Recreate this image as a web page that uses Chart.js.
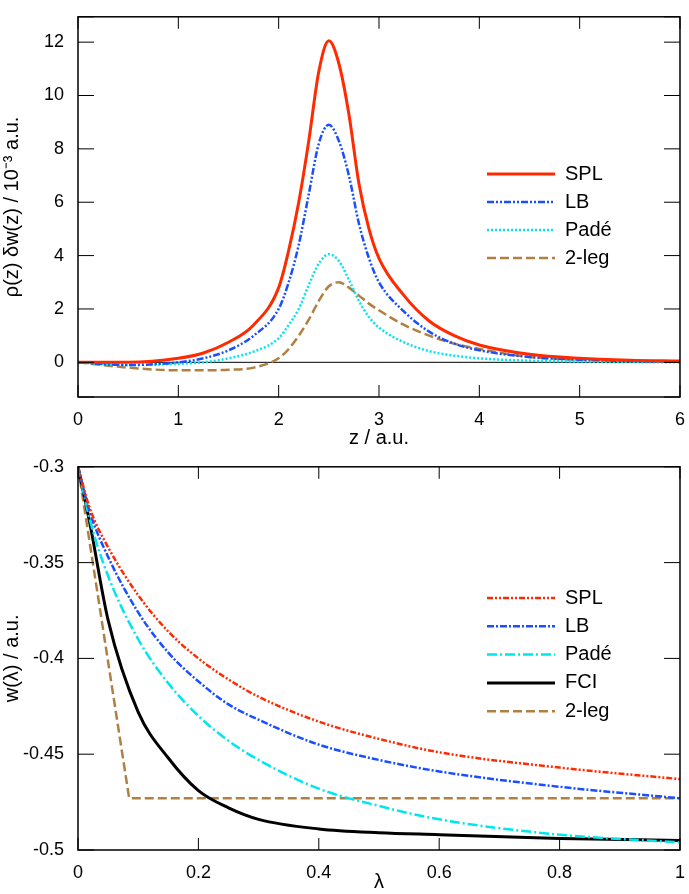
<!DOCTYPE html>
<html><head><meta charset="utf-8">
<script src="https://cdn.jsdelivr.net/npm/chart.js@4/dist/chart.umd.min.js"></script>
<style>body{margin:0;background:#fff}</style>
</head><body>
<div style="position:absolute;top:0;left:0;width:689px;height:450px"><canvas id="c1"></canvas></div>
<div style="position:absolute;top:450px;left:0;width:689px;height:444px"><canvas id="c2"></canvas></div>
<script>
// top panel: z grid and curves
const z = [0,0.5,1,1.25,1.5,1.75,2,2.1,2.2,2.3,2.4,2.5,2.6,2.7,2.8,2.9,3,3.25,3.5,3.75,4,4.5,5,5.5,6];
const splTop = [0,0,0.15,0.35,0.75,1.4,2.8,4.2,6.0,8.3,10.9,12.05,11.2,9.3,6.7,5.0,3.9,2.5,1.55,1.0,0.65,0.3,0.15,0.08,0.05];
const lbTop = [0,-0.1,0,0.15,0.45,1.0,2.0,3.0,4.4,6.3,8.2,8.9,8.3,7.0,5.2,3.9,3.0,1.9,1.15,0.7,0.45,0.2,0.1,0.05,0.03];
const padeTop = [0,-0.1,-0.05,0,0.15,0.4,0.9,1.4,2.0,2.9,3.7,4.05,3.8,3.1,2.3,1.7,1.3,0.75,0.42,0.25,0.15,0.06,0.03,0.01,0];
const legTop = [0,-0.2,-0.3,-0.3,-0.28,-0.2,0.15,0.5,1.0,1.6,2.3,2.85,3.0,2.8,2.5,2.2,1.95,1.4,1.0,0.7,0.5,0.2,0.1,0.05,0.02];

// bottom panel
const lam = [0,0.02,0.05,0.1,0.15,0.2,0.25,0.3,0.4,0.5,0.6,0.8,1];
const splBot = [-0.3,-0.322,-0.342,-0.367,-0.386,-0.4,-0.411,-0.42,-0.433,-0.442,-0.449,-0.457,-0.463];
const lbBot = [-0.3,-0.324,-0.347,-0.376,-0.397,-0.412,-0.424,-0.432,-0.445,-0.453,-0.459,-0.467,-0.473];
const padeBot = [-0.3,-0.328,-0.357,-0.39,-0.413,-0.43,-0.443,-0.453,-0.468,-0.477,-0.484,-0.492,-0.496];
const fciBot = [-0.3,-0.33,-0.38,-0.428,-0.452,-0.469,-0.478,-0.484,-0.489,-0.491,-0.492,-0.494,-0.495];
const lam2 = [0,0.085,1];
const legBot = [-0.3,-0.473,-0.473];

const F = 'Liberation Sans, Arial, sans-serif';
const pts = (xs, ys) => xs.map((x, i) => ({x: x, y: ys[i]}));

const framePlugin = {
    id: 'frame',
    afterDraw(c) {
        const a = c.chartArea, ctx = c.ctx;
        ctx.save();
        ctx.strokeStyle = '#000'; ctx.lineWidth = 1.5;
        ctx.strokeRect(a.left, a.top, a.right - a.left, a.bottom - a.top);
        // inward ticks
        const xs = c.scales.x, ys = c.scales.y;
        ctx.lineWidth = 1;
        xs.ticks.forEach(t => {
            const p = xs.getPixelForValue(t.value);
            ctx.beginPath(); ctx.moveTo(p, a.bottom); ctx.lineTo(p, a.bottom - 12);
            ctx.moveTo(p, a.top); ctx.lineTo(p, a.top + 12); ctx.stroke();
        });
        ys.ticks.forEach(t => {
            const p = ys.getPixelForValue(t.value);
            ctx.beginPath(); ctx.moveTo(a.left, p); ctx.lineTo(a.left + 16, p);
            ctx.moveTo(a.right, p); ctx.lineTo(a.right - 16, p); ctx.stroke();
        });
        // legend
        const L = c.options.plugins.myLegend;
        c.data.datasets.forEach((d, i) => {
            if (d.noLegend) return;
            const y = L.y + i * L.dy;
            ctx.strokeStyle = d.borderColor; ctx.lineWidth = d.borderWidth;
            ctx.setLineDash(d.borderDash || []);
            ctx.beginPath(); ctx.moveTo(L.x, y); ctx.lineTo(L.x + 68, y); ctx.stroke();
            ctx.setLineDash([]);
            ctx.fillStyle = '#000'; ctx.font = '20px ' + F; ctx.textBaseline = 'middle';
            ctx.fillText(d.label, L.x + 78, y);
        });
        ctx.restore();
    }
};

function line(label, data, color, dash, w) {
    return {label: label, data: data, borderColor: color, borderDash: dash, borderWidth: w || 2.5,
        pointRadius: 0, fill: false, cubicInterpolationMode: 'monotone'};
}

function scales(xmin, xmax, xstep, ymin, ymax, ystep, xtitle, ytitle, xh, xfmt, yfmt) {
    return {
        x: {type: 'linear', min: xmin, max: xmax, grid: {display: false}, border: {display: false},
            ticks: {stepSize: xstep, color: '#000', font: {size: 18, family: F}, padding: 4, maxRotation: 0, callback: xfmt},
            title: {display: true, text: xtitle, color: '#000', font: {size: 20, family: F}, padding: 0},
            afterFit: s => { s.height = xh; }},
        y: {min: ymin, max: ymax, grid: {display: false}, border: {display: false},
            ticks: {stepSize: ystep, color: '#000', font: {size: 18, family: F}, padding: 6, callback: yfmt},
            title: {display: true, text: ytitle, color: '#000', font: {size: 20, family: F}, padding: 0},
            afterFit: s => { s.width = 78; }}
    };
}

const num = v => String(Math.round(v * 100) / 100);

new Chart(document.getElementById('c1'), {
    type: 'line',
    data: {datasets: [
        line('SPL', pts(z, splTop), '#ff2a00', [], 3),
        line('LB', pts(z, lbTop), '#1a4fff', [7, 2, 2, 2, 2, 2]),
        line('Padé', pts(z, padeTop), '#00e5ee', [2, 2]),
        line('2-leg', pts(z, legTop), '#b08040', [9, 4]),
        Object.assign(line('', [{x: 0, y: 0}, {x: 6, y: 0}], '#000', [], 1), {noLegend: true})
    ]},
    options: {
        animation: false, responsive: true, maintainAspectRatio: false,
        layout: {padding: {top: 10, right: 9, left: 0, bottom: 0}},
        plugins: {legend: {display: false}, tooltip: {enabled: false},
            myLegend: {x: 487, y: 174, dy: 28}},
        scales: scales(0, 6, 1, -1.3, 12.95, 2, 'z / a.u.', 'ρ(z) δw(z) / 10⁻³ a.u.', 53,
            num, v => (v % 2 === 0 ? v : ''))
    },
    plugins: [framePlugin]
});

new Chart(document.getElementById('c2'), {
    type: 'line',
    data: {datasets: [
        line('SPL', pts(lam, splBot), '#ff2a00', [6, 2, 2, 2, 2, 2]),
        line('LB', pts(lam, lbBot), '#1a4fff', [7, 2, 2, 2]),
        line('Padé', pts(lam, padeBot), '#00e5ee', [10, 3, 2, 3]),
        line('FCI', pts(lam, fciBot), '#000', [], 3),
        Object.assign(line('2-leg', pts(lam2, legBot), '#b08040', [9, 4]), {cubicInterpolationMode: 'default', tension: 0})
    ]},
    options: {
        animation: false, responsive: true, maintainAspectRatio: false,
        layout: {padding: {top: 13, right: 9, left: 0, bottom: 0}},
        plugins: {legend: {display: false}, tooltip: {enabled: false},
            myLegend: {x: 487, y: 148, dy: 28.3}},
        scales: scales(0, 1, 0.2, -0.5, -0.3, 0.05, 'λ', 'w(λ) / a.u.', 44, num, num)
    },
    plugins: [framePlugin]
});
</script>
</body></html>
